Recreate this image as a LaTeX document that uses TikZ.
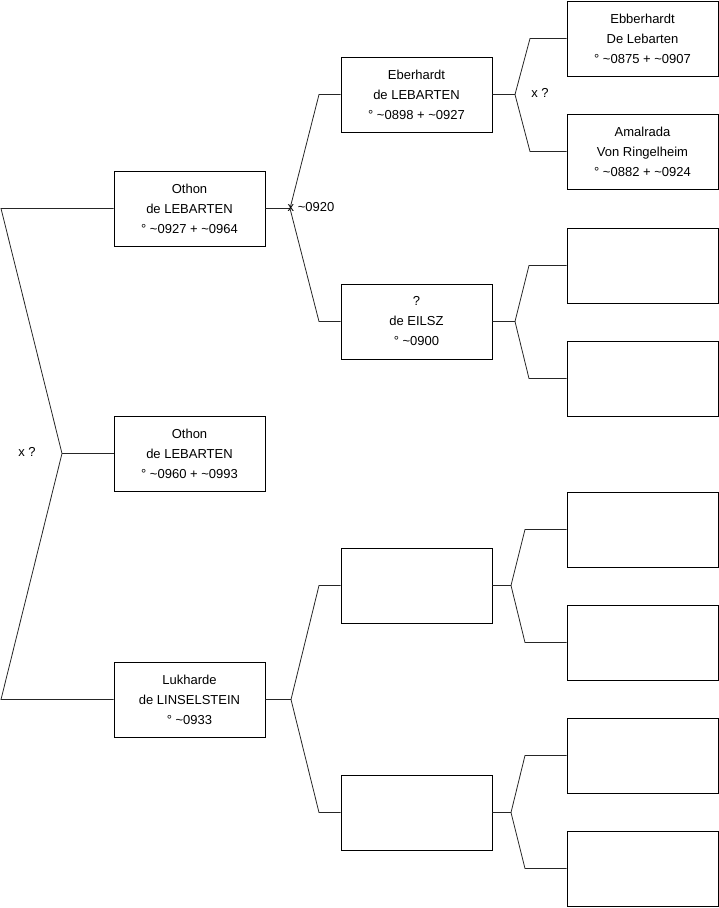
\documentclass[tikz,border=0pt]{standalone}
\usepackage{fontspec}
\setmainfont{Liberation Sans}
\begin{document}
\begin{tikzpicture}[x=1pt,y=-1pt,
  box/.style={draw=black,line width=0.8pt,minimum width=151pt,minimum height=75pt,inner sep=0pt,align=center,font=\fontsize{13}{20}\selectfont},
  lbl/.style={inner sep=0pt,font=\fontsize{13}{20}\selectfont},
  conn/.style={draw=black!85,line width=0.8pt}]
\useasboundingbox (0,0) rectangle (719,908);
% level 1
\node[box] (a1) at (189.5,208.5) {Othon\\de LEBARTEN\\° \textasciitilde0927 + \textasciitilde0964};
\node[box] (a2) at (189.5,453.5) {Othon\\de LEBARTEN\\° \textasciitilde0960 + \textasciitilde0993};
\node[box] (a3) at (189.5,699.5) {Lukharde\\de LINSELSTEIN\\° \textasciitilde0933};
% level 2
\node[box] (b1) at (416.5,94.5) {Eberhardt\\de LEBARTEN\\° \textasciitilde0898 + \textasciitilde0927};
\node[box] (b2) at (416.5,321.5) {?\\de EILSZ\\° \textasciitilde0900};
\node[box] (b3) at (416.5,585.5) {};
\node[box] (b4) at (416.5,812.5) {};
% level 3
\node[box] (c1) at (642.5,38.5) {Ebberhardt\\De Lebarten\\° \textasciitilde0875 + \textasciitilde0907};
\node[box] (c2) at (642.5,151.5) {Amalrada\\Von Ringelheim\\° \textasciitilde0882 + \textasciitilde0924};
\node[box] (c3) at (642.5,265.5) {};
\node[box] (c4) at (642.5,378.5) {};
\node[box] (c5) at (642.5,529.5) {};
\node[box] (c6) at (642.5,642.5) {};
\node[box] (c7) at (642.5,755.5) {};
\node[box] (c8) at (642.5,868.5) {};
% vertices
\coordinate (v0) at (62,453.5);
\coordinate (v0a) at (1,208.5);
\coordinate (v0b) at (1,699.5);
\coordinate (v1) at (290,208.5);
\coordinate (v3) at (291,699.5);
\coordinate (w1) at (515,94.5);
\coordinate (w2) at (515,321.5);
\coordinate (w3) at (511,585.5);
\coordinate (w4) at (511,812.5);
% left bracket
\draw[conn] (a1.west) -- (v0a) -- (v0) -- (v0b) -- (a3.west);
\draw[conn] (v0) -- (a2.west);
\node[lbl] (t0) at (27,451.5) {x ?};
% level1 -> level2
\draw[conn] (a1.east) -- (v1) -- (319,94.5) -- (b1.west);
\draw[conn] (v1) -- (319,321.5) -- (b2.west);
\node[lbl,anchor=west] (t1) at (287.5,207.5) {x \textasciitilde0920};
\draw[conn] (a3.east) -- (v3) -- (319,585.5) -- (b3.west);
\draw[conn] (v3) -- (319,812.5) -- (b4.west);
% level2 -> level3
\draw[conn] (b1.east) -- (w1) -- (530,38.5) -- (c1.west);
\draw[conn] (w1) -- (530,151.5) -- (c2.west);
\node[lbl] (t2) at (540,92.5) {x ?};
\draw[conn] (b2.east) -- (w2) -- (529,265.5) -- (c3.west);
\draw[conn] (w2) -- (529,378.5) -- (c4.west);
\draw[conn] (b3.east) -- (w3) -- (525,529.5) -- (c5.west);
\draw[conn] (w3) -- (525,642.5) -- (c6.west);
\draw[conn] (b4.east) -- (w4) -- (525,755.5) -- (c7.west);
\draw[conn] (w4) -- (525,868.5) -- (c8.west);
\end{tikzpicture}
\end{document}
